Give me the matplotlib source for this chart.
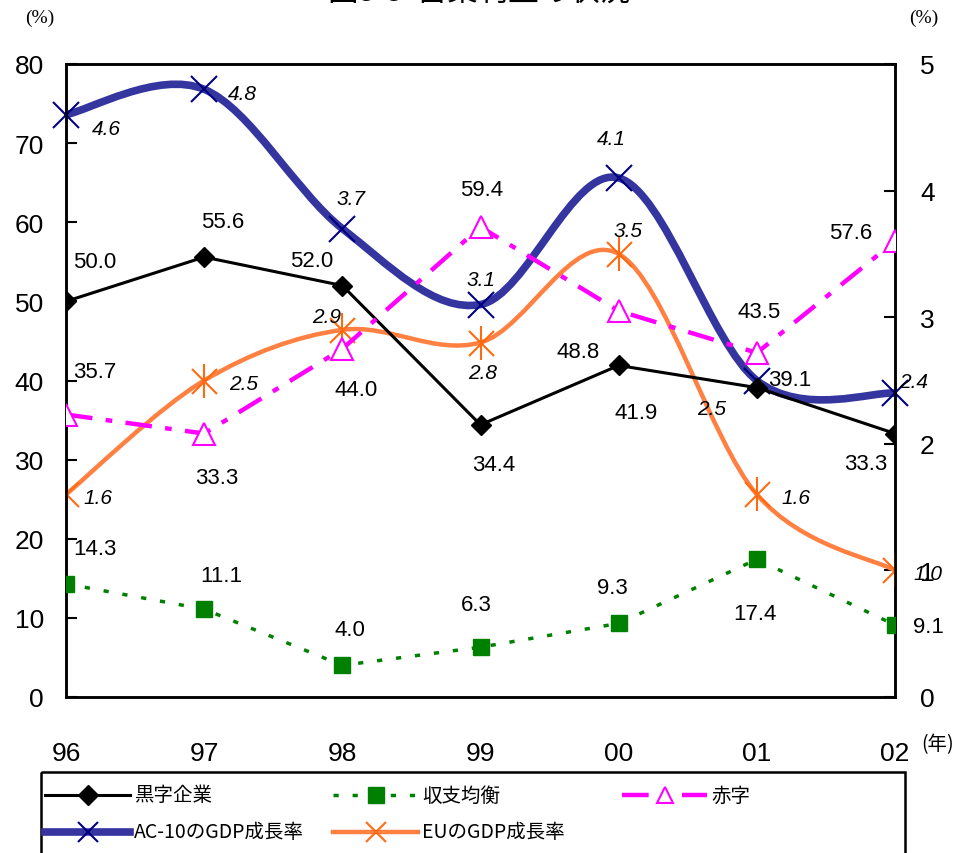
import matplotlib
matplotlib.use("Agg")
import matplotlib.pyplot as plt
import numpy as np
from matplotlib.path import Path
from matplotlib.patches import PathPatch, Rectangle
from matplotlib.lines import Line2D

plt.rcParams['font.family'] = ['Liberation Sans', 'Noto Sans CJK JP', 'DejaVu Sans']

years = ['96', '97', '98', '99', '00', '01', '02']
kuroji = [50.0, 55.6, 52.0, 34.4, 41.9, 39.1, 33.3]       # 黒字企業
kinko = [14.3, 11.1, 4.0, 6.3, 9.3, 17.4, 9.1]            # 収支均衡
akaji = [35.7, 33.3, 44.0, 59.4, 48.8, 43.5, 57.6]        # 赤字
ac10_gdp = [4.6, 4.8, 3.7, 3.1, 4.1, 2.5, 2.4]            # AC-10のGDP成長率
eu_gdp = [1.6, 2.5, 2.9, 2.8, 3.5, 1.6, 1.0]              # EUのGDP成長率

# label offsets in pixels (dx, dy)
off_kuroji = [(29, 40), (19, 36), (-31, 25), (13, -40), (17, -47), (33, 8), (-29, -30)]
off_kinko = [(29, 35), (17, 34), (8, 36), (-4, 43), (-6, 36), (-2, -54), (33, -2)]
off_akaji = [(29, 43), (13, -44), (14, -41), (1, 37), (-41, -41), (2, 41), (-44, 9)]
off_ac10 = [(40, -14), (38, -4), (9, 30), (1, 25), (-7, 39), (-45, -28), (19, 12)]
off_eu = [(32, -3), (39, -3), (-16, 13), (2, -30), (9, 23), (39, -3), (33, -3)]

W, H = 959, 854
fig = plt.figure(figsize=(W / 100, H / 100), dpi=100)
L, R, T, B = 66, 895, 65, 698
ax = fig.add_axes([L / W, 1 - B / H, (R - L) / W, (B - T) / H])
ax2 = ax.twinx()

x = np.arange(len(years))
ax.set_xlim(0, 6)
ax.set_ylim(0, 80)
ax2.set_ylim(0, 5)
ax.set_yticks(range(0, 81, 10))
ax2.set_yticks(range(0, 6))
ax.set_xticks(x)
ax.set_xticklabels(years)
ax.tick_params(axis='x', length=0, pad=32, labelsize=19)
ax.tick_params(axis='y', direction='in', length=8, width=1.5, pad=16, labelsize=19)
ax2.tick_params(axis='y', direction='in', length=8, width=1.5, pad=18, labelsize=19)
for a in (ax, ax2):
    for s in a.spines.values():
        s.set_linewidth(1.8)


def smooth_path(xs, ys):
    n = len(xs)
    pts = np.column_stack([xs, ys]).astype(float)
    verts = [pts[0]]
    codes = [Path.MOVETO]
    for i in range(n - 1):
        p0 = pts[max(i - 1, 0)]
        p1 = pts[i]
        p2 = pts[i + 1]
        p3 = pts[min(i + 2, n - 1)]
        c1 = p1 + (p2 - p0) / 6
        c2 = p2 - (p3 - p1) / 6
        verts += [c1, c2, p2]
        codes += [Path.CURVE4] * 3
    return Path(verts, codes)


# growth rate curves (right axis)
ax2.add_patch(PathPatch(smooth_path(x, eu_gdp), fill=False, ec='#FF8040', lw=3.2,
                        capstyle='round', joinstyle='round', zorder=2))
ax2.plot(x, eu_gdp, ls='none', marker='x', ms=18, mew=1.5, color='#FF6A10', zorder=3)
ax2.plot(x, eu_gdp, ls='none', marker='|', ms=24, mew=1.5, color='#FF6A10', zorder=3)

# company series (left axis)
ax.plot(x, kuroji, color='black', lw=2.2, marker='D', ms=10, zorder=3)
ax.plot(x, kinko, color='#008000', lw=2.5, ls=(0, (1.5, 4)), marker='s', ms=11, zorder=3)
ax.plot(x, akaji, color='#FF00FF', lw=3.2, ls=(0, (6, 3, 1.5, 3)), marker='^', ms=16,
        mfc='white', mec='#FF00FF', mew=1.5, zorder=3)
ax.set_zorder(ax2.get_zorder() + 1)
ax.patch.set_visible(False)

ax3 = fig.add_axes(ax.get_position(), sharex=ax, frameon=False)
ax3.set_ylim(0, 5)
ax3.axis('off')
ax3.add_patch(PathPatch(smooth_path(x, ac10_gdp), fill=False, ec='#3535A0', lw=5.5,
                        capstyle='round', joinstyle='round', zorder=2))
ax3.plot(x, ac10_gdp, ls='none', marker='x', ms=19, mew=1.5, color='#000080', zorder=3,
         clip_on=False)

for vals, offs, a, style in [
        (kuroji, off_kuroji, ax, 'normal'),
        (kinko, off_kinko, ax, 'normal'),
        (akaji, off_akaji, ax, 'normal'),
        (ac10_gdp, off_ac10, ax3, 'italic'),
        (eu_gdp, off_eu, ax3, 'italic')]:
    for xi, v, (dx, dy) in zip(x, vals, offs):
        a.annotate('{:.1f}'.format(v), (xi, v), xytext=(dx, dy), textcoords='offset pixels',
                   ha='center', va='center', fontsize=16 if style == 'normal' else 15,
                   style=style, annotation_clip=False, zorder=5)

# title (cut off at top) and unit labels
fig.text(0.5, 1 - 1 / H, '図3-3  営業利益の状況', ha='center', va='baseline', fontsize=22,
         family=['Noto Sans CJK JP'])
fig.text(40 / W, 1 - 18 / H, '(%)', ha='center', va='center', fontsize=14,
         family=['Liberation Serif'])
fig.text(924 / W, 1 - 18 / H, '(%)', ha='center', va='center', fontsize=14,
         family=['Liberation Serif'])
fig.text(938 / W, 1 - 745 / H, '(年)', ha='center', va='center', fontsize=14,
         family=['Noto Sans CJK JP'])

# legend box
lg = fig.add_axes([0, 0, 1, 1], frameon=False)
lg.set_xlim(0, W)
lg.set_ylim(H, 0)
lg.axis('off')
lg.add_patch(Rectangle((41, 773), 905 - 41, 100, fill=False, ec='black', lw=1.8))
jp = ['Noto Sans CJK JP', 'DejaVu Sans']
items = [
    (45, 796, dict(color='black', lw=2.2, marker='D', ms=10), '黒字企業'),
    (333, 796, dict(color='#008000', lw=2.5, ls=(0, (1.5, 4)), marker='s', ms=11), '収支均衡'),
    (622, 796, dict(color='#FF00FF', lw=3.2, ls=(0, (6, 3, 1.5, 3)), marker='^', ms=12,
                    mfc='white', mec='#FF00FF', mew=1.5), '赤字'),
    (45, 833, dict(color='#3535A0', lw=5.5, marker='x', ms=14, mew=1.5, mec='#000080'),
     'AC-10のGDP成長率'),
    (333, 833, dict(color='#FF8040', lw=3.2, marker='x', ms=14, mew=1.5, mec='#FF6A10'),
     'EUのGDP成長率'),
]
for x0, y0, kw, label in items:
    lg.add_line(Line2D([x0, x0 + 85], [y0, y0], **{k: v for k, v in kw.items()
                                                    if k not in ('marker', 'ms', 'mfc', 'mec', 'mew')}))
    lg.plot([x0 + 43], [y0], ls='none', color=kw['color'], marker=kw['marker'], ms=kw['ms'],
            mfc=kw.get('mfc', kw['color']), mec=kw.get('mec', kw['color']), mew=kw.get('mew', 1))
    lg.text(x0 + 89, y0, label, ha='left', va='center', fontsize=14, family=jp)

fig.savefig('out.png', dpi=100)
